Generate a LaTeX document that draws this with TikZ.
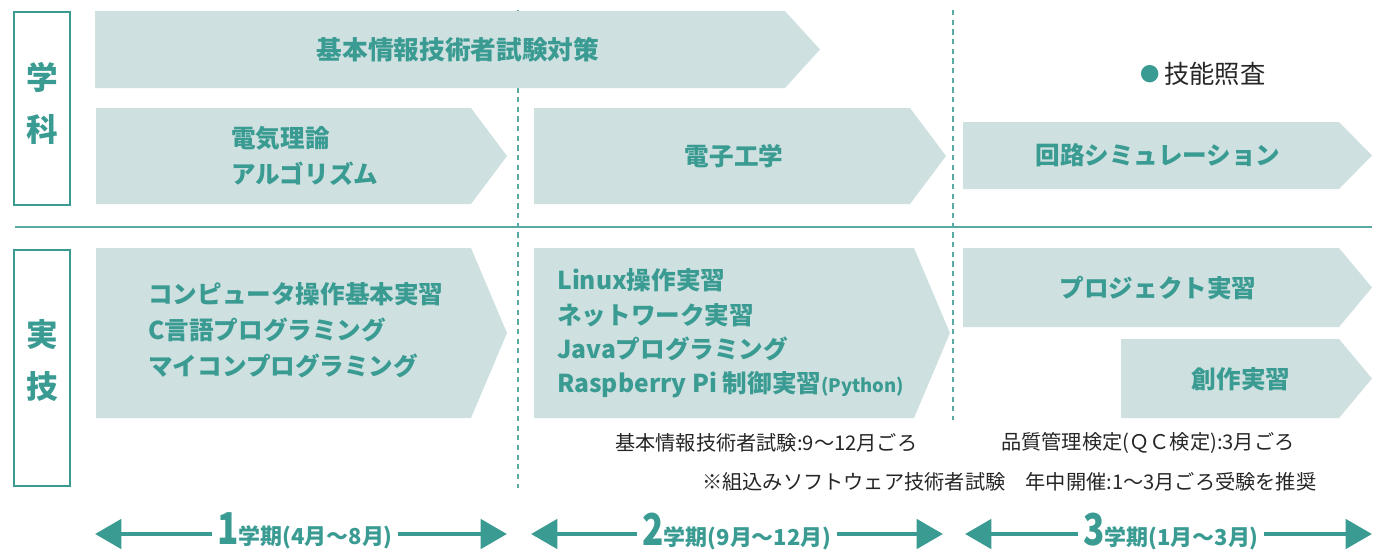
\documentclass[tikz,border=0pt]{standalone}
\usepackage{fontspec}
\setmainfont{Noto Sans CJK JP}
\usetikzlibrary{arrows.meta}

\definecolor{tealink}{RGB}{58,155,147}
\definecolor{tealline}{RGB}{88,170,163}
\definecolor{bandfill}{RGB}{206,224,223}
\definecolor{noteink}{RGB}{38,38,38}

\newcommand{\fs}[2]{\fontsize{#1pt}{#2pt}\selectfont}
\newcommand{\termno}[1]{{\fs{25}{25}\scalebox{0.8}[1]{#1}}}

\tikzset{
  headframe/.style={draw=tealink, line width=1.5pt},
  headtext/.style={text=tealink, font=\bfseries\fs{18}{18}, inner sep=0pt},
  band/.style={fill=bandfill},
  bandtext/.style={text=tealink, font=\bfseries\fs{14}{20.4}, inner sep=0pt, align=left},
  notetext/.style={text=noteink, font=\fs{11.5}{14}, inner sep=0pt, anchor=west},
  divider/.style={draw=tealline, line width=0.8pt},
  termline/.style={draw=tealline, line width=0.75pt, dash pattern=on 3pt off 2.5pt},
  period/.style={draw=tealink, line width=2.8pt,
    {Triangle[length=15pt,width=16.5pt]}-{Triangle[length=15pt,width=16.5pt]}},
  periodtext/.style={fill=white, text=tealink, font=\bfseries\fs{12.5}{14},
    inner xsep=3pt, inner ysep=0pt},
}

\begin{document}
\begin{tikzpicture}[x=0.02cm, y=-0.02cm]
\useasboundingbox (0,0) rectangle (1374,549);

% term dividers and the row divider
\coordinate (d1t) at (518,10);  \coordinate (d1b) at (518,488);
\coordinate (d2t) at (953,10);  \coordinate (d2b) at (953,420);
\draw[termline] (d1t) -- (d1b);
\draw[termline] (d2t) -- (d2b);
\coordinate (rowl) at (15,227); \coordinate (rowr) at (1372,227);
\draw[divider] (rowl) -- (rowr);

% row headers
\draw[headframe] (14,12) rectangle (70,205);
\node[headtext] (h1a) at (42,77) {学};
\node[headtext] (h1b) at (42,129) {科};
\draw[headframe] (14,250) rectangle (70,486);
\node[headtext] (h2a) at (42,335) {実};
\node[headtext] (h2b) at (42,386) {技};

% lecture bands
\fill[band] (95,11) -- (785,11) -- (820,49.5) -- (785,88) -- (95,88) -- cycle;
\node[bandtext, font=\bfseries\fs{14.6}{20}] (kihon) at (458,49.5) {基本情報技術者試験対策};

\fill[band] (96,108) -- (471,108) -- (507,156) -- (471,204) -- (96,204) -- cycle;
\node[bandtext, anchor=west] (denki) at (231,156) {電気理論\\アルゴリズム};

\fill[band] (534,108) -- (910,108) -- (946,156) -- (910,204) -- (534,204) -- cycle;
\node[bandtext] (denshi) at (734,156) {電子工学};

\fill[band] (963,122) -- (1339,122) -- (1372,155.5) -- (1339,189) -- (963,189) -- cycle;
\node[bandtext] (kairo) at (1158,155.5) {回路シミュレーション};

\node[text=tealink, font=\fs{11}{12}, inner sep=0pt] (dot) at (1150,74) {●};
\node[text=noteink, font=\fs{14.4}{16}, inner sep=0pt, anchor=west] (ginou) at (1164,74) {技能照査};

% practical bands
\fill[band] (96,248) -- (471,248) -- (507,333) -- (471,418) -- (96,418) -- cycle;
\node[bandtext, anchor=west] (jisshu1) at (148,330)
  {コンピュータ操作基本実習\\C言語プログラミング\\マイコンプログラミング};

\fill[band] (534,248) -- (914,248) -- (950,333) -- (914,418) -- (534,418) -- cycle;
\node[bandtext, anchor=west, font=\bfseries\fs{14}{19.6}] (jisshu2) at (557,333.5)
  {Linux操作実習\\ネットワーク実習\\Javaプログラミング\\Raspberry Pi 制御実習{\fs{10.5}{12}(Python)}};

\fill[band] (963,248) -- (1339,248) -- (1372,287.5) -- (1339,327) -- (963,327) -- cycle;
\node[bandtext] (project) at (1158,288) {プロジェクト実習};

\fill[band] (1121,339) -- (1339,339) -- (1372,378.5) -- (1339,418) -- (1121,418) -- cycle;
\node[bandtext] (sousaku) at (1241,379) {創作実習};

% exam notes
\node[notetext] (n1) at (615,443) {基本情報技術者試験:9〜12月ごろ};
\node[notetext] (n2) at (1001,443) {品質管理検定(ＱＣ検定):3月ごろ};
\node[notetext] (n3) at (702,482) {※組込みソフトウェア技術者試験　年中開催:1〜3月ごろ受験を推奨};

% term arrows
\coordinate (t1l) at (95,534);  \coordinate (t1r) at (507,534);
\coordinate (t2l) at (531,534); \coordinate (t2r) at (943,534);
\coordinate (t3l) at (965,534); \coordinate (t3r) at (1372,534);
\draw[period] (t1l) -- (t1r);
\draw[period] (t2l) -- (t2r);
\draw[period] (t3l) -- (t3r);
\node[periodtext] (t1) at (305,531) {\termno{1}学期(4月〜8月)};
\node[periodtext] (t2) at (737,531) {\termno{2}学期(9月〜12月)};
\node[periodtext] (t3) at (1171,531) {\termno{3}学期(1月〜3月)};
\end{tikzpicture}
\end{document}
